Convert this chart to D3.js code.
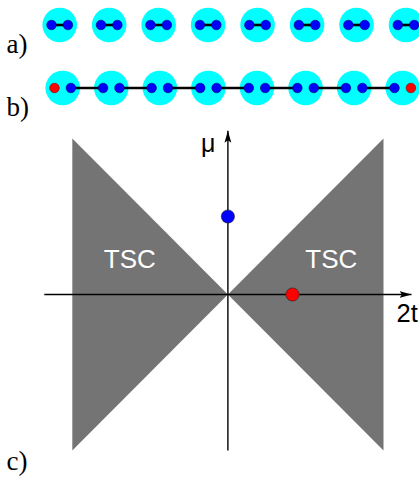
<!DOCTYPE html>
<html>
<head>
<meta charset="utf-8">
<script src="https://cdn.jsdelivr.net/npm/d3@7"></script>
<style>
  html, body { margin: 0; padding: 0; background: #fff; }
  svg { display: block; }
</style>
</head>
<body>
<svg id="chart" width="419" height="477"></svg>
<script>
// ---------- data ----------
const siteIndex = [0, 1, 2, 3, 4, 5, 6, 7];          // 8 unit cells
const dotOffsets = [-1, 1];                          // two Majorana modes per cell
const interBonds = [0, 1, 2, 3, 4, 5, 6];            // bond from cell i to cell i+1 (row b)
const rowLabels = ["a)", "b)", "c)"];
// row b: unpaired (red) modes at chain ends
const unpaired = [{cell: 0, side: -1}, {cell: 7, side: 1}];
// phase diagram: TSC regions in (2t, mu) units
const tscRegions = [
  [[0, 0], [1, 1], [1, -1]],
  [[0, 0], [-1, 1], [-1, -1]]
];
const tscLabels = [{x: -0.63, y: 0.167, text: "TSC"}, {x: 0.665, y: 0.167, text: "TSC"}];
const points = [{x: 0, y: 0.5, color: "#0000ff"}, {x: 0.415, y: 0, color: "#ff0000"}];
const axisX = [-1.18, 1.18];
const axisY = [-1.0, 1.05];
const axisLabels = {x: "2t", y: "μ"};

// ---------- drawing ----------
const SERIF = "'Liberation Serif', 'DejaVu Serif', serif";
const SANS = "'Liberation Sans', Arial, Helvetica, sans-serif";
const svg = d3.select("#chart");

const xA = d3.scaleLinear().domain([0, 7]).range([59.7, 406]);
const xB = d3.scaleLinear().domain([0, 7]).range([62.7, 402.7]);
const yA = 25, yB = 88;
const cellR = 17.3, dotR = 4.8, dotOff = 8.2;

const isRed = (i, s) => unpaired.some(u => u.cell === i && u.side === s);

// Row a: trivial pairing inside each cell
const gA = svg.append("g");
gA.selectAll("circle.cell").data(siteIndex).join("circle")
  .attr("cx", d => xA(d)).attr("cy", yA).attr("r", cellR).attr("fill", "#00ffff");
gA.selectAll("line.bond").data(siteIndex).join("line")
  .attr("x1", d => xA(d) - dotOff).attr("x2", d => xA(d) + dotOff)
  .attr("y1", yA).attr("y2", yA).attr("stroke", "#000").attr("stroke-width", 2.6);
siteIndex.forEach(i => {
  gA.selectAll(null).data(dotOffsets).join("circle")
    .attr("cx", s => xA(i) + s * dotOff).attr("cy", yA).attr("r", dotR)
    .attr("fill", "#0000ff").attr("stroke", "#000066").attr("stroke-width", 0.6);
});

// Row b: pairing between neighboring cells
const gB = svg.append("g");
gB.selectAll("circle.cell").data(siteIndex).join("circle")
  .attr("cx", d => xB(d)).attr("cy", yB).attr("r", cellR).attr("fill", "#00ffff");
gB.selectAll("line.bond").data(interBonds).join("line")
  .attr("x1", d => xB(d) + dotOff).attr("x2", d => xB(d + 1) - dotOff)
  .attr("y1", yB).attr("y2", yB).attr("stroke", "#000").attr("stroke-width", 2.6);
siteIndex.forEach(i => {
  gB.selectAll(null).data(dotOffsets).join("circle")
    .attr("cx", s => xB(i) + s * dotOff).attr("cy", yB).attr("r", dotR)
    .attr("fill", s => isRed(i, s) ? "#ff0000" : "#0000ff")
    .attr("stroke", s => isRed(i, s) ? "#880000" : "#000066")
    .attr("stroke-width", 0.6);
});

// Panel c: phase diagram
const x = d3.scaleLinear().domain([-1, 1]).range([72.3, 383.5]);
const y = d3.scaleLinear().domain([-1, 1]).range([450.5, 138.5]);
const gC = svg.append("g");
const line = d3.line().x(d => x(d[0])).y(d => y(d[1]));
gC.selectAll("path.region").data(tscRegions).join("path")
  .attr("d", d => line(d) + "Z").attr("fill", "#747474");

const defs = svg.append("defs");
defs.append("marker").attr("id", "arrow")
  .attr("viewBox", "0 0 12 8").attr("refX", 12).attr("refY", 4)
  .attr("markerWidth", 12).attr("markerHeight", 8)
  .attr("markerUnits", "userSpaceOnUse").attr("orient", "auto")
  .append("path").attr("d", "M0,0.6 L12,4 L0,7.4 L2.5,4 Z").attr("fill", "#000");

gC.append("line")
  .attr("x1", x(axisX[0])).attr("x2", x(axisX[1]))
  .attr("y1", y(0)).attr("y2", y(0))
  .attr("stroke", "#000").attr("stroke-width", 1.4).attr("marker-end", "url(#arrow)");
gC.append("line")
  .attr("x1", x(0)).attr("x2", x(0))
  .attr("y1", y(axisY[0])).attr("y2", y(axisY[1]))
  .attr("stroke", "#000").attr("stroke-width", 1.4).attr("marker-end", "url(#arrow)");

gC.selectAll("text.tsc").data(tscLabels).join("text")
  .style("font-family", SANS)
  .attr("x", d => x(d.x)).attr("y", d => y(d.y))
  .attr("text-anchor", "middle")
  .style("font-size", "26px").attr("fill", "#fff").text(d => d.text);

gC.selectAll("circle.pt").data(points).join("circle")
  .attr("cx", d => x(d.x)).attr("cy", d => y(d.y)).attr("r", 6.6)
  .attr("fill", d => d.color).attr("stroke", "#222").attr("stroke-width", 0.6);

gC.append("text").style("font-family", SANS).attr("x", 396.5).attr("y", 321.5)
  .style("font-size", "25.5px").attr("fill", "#000").text(axisLabels.x);
gC.append("text").style("font-family", SANS).attr("x", 201).attr("y", 152)
  .style("font-size", "25px").attr("fill", "#000").text(axisLabels.y);

// panel labels
const labelPos = [{x: 6.5, y: 53}, {x: 6.5, y: 116}, {x: 6.5, y: 470}];
svg.selectAll("text.panel").data(rowLabels).join("text")
  .style("font-family", SERIF)
  .attr("x", (d, i) => labelPos[i].x).attr("y", (d, i) => labelPos[i].y)
  .style("font-size", "27px").attr("fill", "#000").text(d => d);
</script>
</body>
</html>
